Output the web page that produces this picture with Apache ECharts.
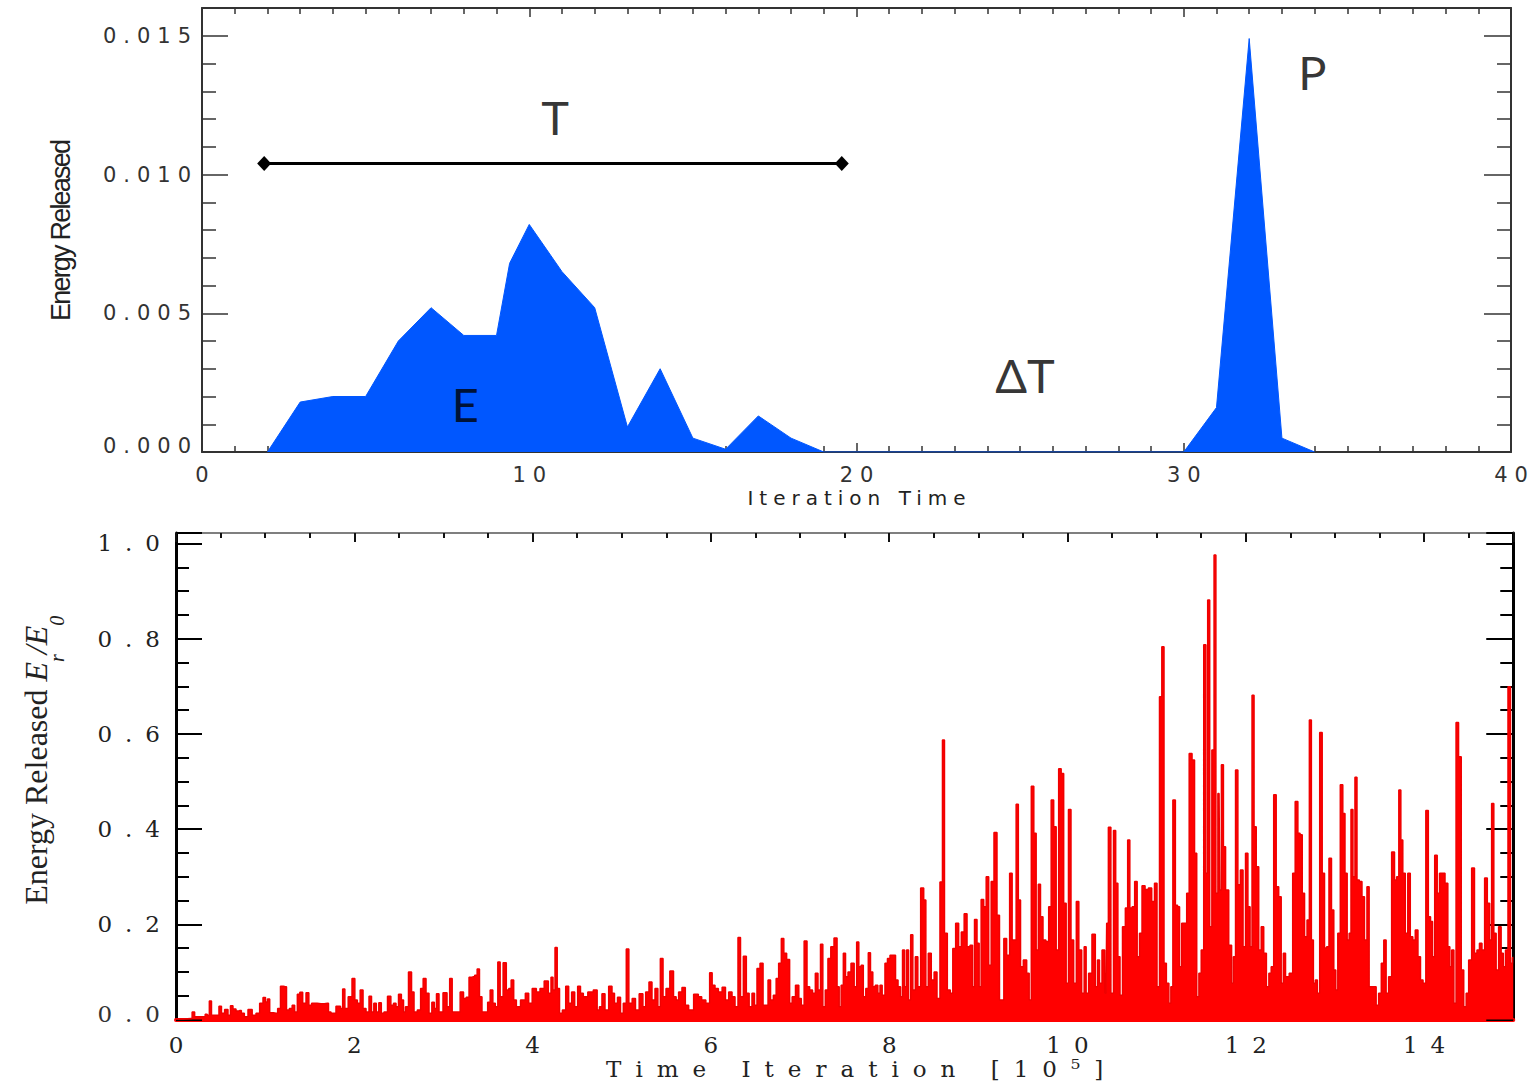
<!DOCTYPE html>
<html>
<head>
<meta charset="utf-8">
<title>Energy release per iteration</title>
<script src="https://cdn.jsdelivr.net/npm/echarts@6/dist/echarts.min.js"></script>
<style>
  html, body { margin: 0; padding: 0; background: #ffffff; }
  #chart { width: 1539px; height: 1085px; }
</style>
</head>
<body>
<div id="chart"></div>
<script>
// ---------- Upper panel: one avalanche (E) of duration T, a quiet gap ΔT, then the next peak (P)
const iterTime       = [2, 3, 4, 5, 6, 7, 8, 9, 9.4, 10, 11, 12, 13, 14, 15, 16, 17, 18, 19, 30, 31, 32, 33, 34];
const energyReleased = [0, 0.0018, 0.0020, 0.0020, 0.0040, 0.0052, 0.0042, 0.0042, 0.0068, 0.0082, 0.0065, 0.0052,
                        0.0009, 0.0030, 0.0005, 0.0001, 0.0013, 0.0005, 0, 0, 0.0016, 0.0149, 0.0005, 0];

// duration bar T (start, end, level)
const periodStart = 1.9;
const periodEnd   = 19.55;
const periodLevel = 0.0104;

// letters written on the upper panel, in data units
const panelNotes = [
  { text: 'T',  x: 10.79, y: 0.01207 },
  { text: 'P',  x: 33.93, y: 0.0137 },
  { text: 'E',  x: 8.05,  y: 0.00173 },
  { text: 'ΔT', x: 25.15, y: 0.00277 }
];

// upper panel tick values
const upperXTicks = { min: 0, max: 40, step: 10 };
const upperYTicks = { min: 0, max: 0.016, step: 0.005 };

// ---------- Lower panel: released energy E_r/E_0 against time iteration [10^5], pairs [t, E_r/E_0]
const releases0to3 = [
  [0,0.001],[0.168,0.002],[0.194,0.016],[0.224,0.006],[0.318,0.006],[0.337,0.011],[0.363,0.009],[0.385,0.039],
  [0.411,0.009],[0.467,0.009],[0.497,0.028],[0.523,0.013],[0.568,0.021],[0.598,0.009],[0.624,0.029],[0.654,0.022],
  [0.692,0.018],[0.718,0.019],[0.748,0.013],[0.785,0.006],[0.830,0.021],[0.879,0.009],[0.916,0.013],[0.961,0.034],
  [0.991,0.046],[1.017,0.037],[1.036,0.043],[1.066,0.014],[1.122,0.013],[1.159,0.023],[1.185,0.070],[1.226,0.069],
  [1.253,0.020],[1.290,0.023],[1.316,0.030],[1.346,0.016],[1.376,0.053],[1.402,0.057],[1.440,0.034],[1.477,0.056],
  [1.503,0.030],[1.540,0.034],[1.626,0.033],[1.701,0.034],[1.720,0.016],[1.757,0.013],[1.832,0.028],[1.858,0.023],
  [1.881,0.064],[1.907,0.023],[1.956,0.048],[1.993,0.086],[2.019,0.041],[2.049,0.034],[2.083,0.062],[2.113,0.023],
  [2.150,0.016],[2.180,0.049],[2.206,0.016],[2.232,0.034],[2.262,0.016],[2.288,0.035],[2.318,0.013],[2.348,0.016],
  [2.397,0.049],[2.423,0.030],[2.457,0.034],[2.479,0.027],[2.513,0.053],[2.543,0.041],[2.561,0.016],[2.587,0.027],
  [2.629,0.100],[2.655,0.058],[2.685,0.016],[2.729,0.020],[2.759,0.065],[2.786,0.086],[2.823,0.055],[2.853,0.013],
  [2.887,0.036],[2.909,0.023],[2.935,0.054],[2.965,0.016]
];
const releases3to6 = [
  [3.025,0.056],[3.055,0.027],[3.085,0.086],[3.111,0.016],[3.167,0.016],[3.208,0.058],[3.242,0.044],[3.268,0.047],
  [3.306,0.089],[3.336,0.090],[3.365,0.093],[3.391,0.106],[3.417,0.048],[3.447,0.016],[3.485,0.016],[3.507,0.036],
  [3.541,0.062],[3.567,0.034],[3.597,0.027],[3.623,0.121],[3.649,0.048],[3.690,0.119],[3.720,0.062],[3.746,0.065],
  [3.773,0.083],[3.803,0.041],[3.833,0.027],[3.896,0.041],[3.941,0.055],[3.971,0.034],[4.020,0.065],[4.064,0.058],
  [4.102,0.065],[4.158,0.081],[4.195,0.055],[4.218,0.089],[4.240,0.062],[4.263,0.151],[4.289,0.065],[4.315,0.013],
  [4.353,0.020],[4.390,0.070],[4.419,0.034],[4.457,0.058],[4.487,0.027],[4.524,0.070],[4.550,0.055],[4.588,0.048],
  [4.651,0.058],[4.711,0.062],[4.737,0.020],[4.763,0.027],[4.793,0.054],[4.831,0.020],[4.876,0.070],[4.905,0.055],
  [4.932,0.034],[4.973,0.047],[4.999,0.013],[5.036,0.034],[5.066,0.148],[5.093,0.034],[5.141,0.044],[5.167,0.020],
  [5.224,0.054],[5.250,0.027],[5.287,0.058],[5.324,0.079],[5.354,0.041],[5.392,0.065],[5.418,0.027],[5.448,0.128],
  [5.478,0.048],[5.515,0.065],[5.564,0.102],[5.597,0.048],[5.623,0.041],[5.653,0.058],[5.698,0.067],[5.728,0.030],
  [5.773,0.020],[5.840,0.053],[5.878,0.048],[5.915,0.041]
];
const releases6to9 = [
  [5.971,0.034],[6.001,0.098],[6.027,0.072],[6.065,0.065],[6.102,0.058],[6.150,0.068],[6.177,0.041],[6.222,0.058],
  [6.252,0.048],[6.289,0.027],[6.319,0.172],[6.345,0.048],[6.383,0.133],[6.412,0.055],[6.446,0.027],[6.476,0.055],
  [6.502,0.030],[6.532,0.107],[6.570,0.118],[6.600,0.030],[6.626,0.030],[6.656,0.083],[6.682,0.041],[6.719,0.051],
  [6.745,0.086],[6.775,0.118],[6.805,0.170],[6.831,0.139],[6.868,0.126],[6.898,0.034],[6.925,0.048],[6.973,0.072],
  [6.999,0.044],[7.029,0.030],[7.063,0.165],[7.093,0.069],[7.123,0.062],[7.157,0.055],[7.186,0.097],[7.216,0.062],
  [7.243,0.158],[7.268,0.027],[7.298,0.062],[7.328,0.128],[7.362,0.153],[7.400,0.171],[7.430,0.069],[7.448,0.027],
  [7.474,0.072],[7.497,0.139],[7.523,0.090],[7.553,0.100],[7.590,0.118],[7.624,0.069],[7.646,0.163],[7.672,0.111],
  [7.698,0.114],[7.721,0.048],[7.754,0.065],[7.777,0.140],[7.803,0.100],[7.829,0.069],[7.859,0.072],[7.886,0.055],
  [7.908,0.072],[7.934,0.051],[7.971,0.118],[7.990,0.128],[8.028,0.135],[8.058,0.135],[8.084,0.083],[8.114,0.069],
  [8.140,0.048],[8.159,0.146],[8.185,0.069],[8.204,0.146],[8.230,0.041],[8.252,0.178],[8.278,0.062],[8.308,0.132],
  [8.334,0.069],[8.372,0.276],[8.402,0.251],[8.420,0.069],[8.457,0.139],[8.487,0.083],[8.521,0.100],[8.551,0.044],
  [8.588,0.289],[8.607,0.587],[8.633,0.181],[8.671,0.062],[8.700,0.055],[8.727,0.149],[8.764,0.202],[8.794,0.153],
  [8.824,0.184],[8.858,0.222],[8.888,0.153],[8.925,0.156],[8.944,0.069],[8.970,0.210]
];
const releases9to12 = [
  [9.000,0.160],[9.018,0.069],[9.045,0.252],[9.075,0.237],[9.101,0.300],[9.131,0.114],[9.157,0.290],[9.194,0.393],
  [9.224,0.219],[9.250,0.041],[9.273,0.041],[9.299,0.170],[9.336,0.135],[9.366,0.307],[9.392,0.167],[9.411,0.167],
  [9.437,0.452],[9.460,0.251],[9.486,0.111],[9.523,0.125],[9.561,0.097],[9.579,0.041],[9.609,0.490],[9.635,0.391],
  [9.662,0.146],[9.684,0.284],[9.710,0.216],[9.740,0.167],[9.774,0.164],[9.804,0.237],[9.830,0.461],[9.860,0.405],
  [9.886,0.146],[9.916,0.527],[9.942,0.517],[9.972,0.244],[9.998,0.076],[10.024,0.441],[10.054,0.167],[10.084,0.076],
  [10.114,0.248],[10.140,0.146],[10.178,0.055],[10.196,0.153],[10.222,0.055],[10.252,0.097],[10.297,0.179],[10.327,0.069],
  [10.346,0.125],[10.372,0.076],[10.402,0.146],[10.432,0.055],[10.447,0.202],[10.470,0.404],[10.503,0.055],[10.529,0.397],
  [10.552,0.286],[10.578,0.132],[10.600,0.051],[10.634,0.195],[10.664,0.234],[10.686,0.377],[10.712,0.234],[10.739,0.237],
  [10.768,0.290],[10.795,0.132],[10.821,0.181],[10.851,0.281],[10.889,0.273],[10.926,0.276],[10.963,0.248],[10.989,0.286],
  [11.019,0.069],[11.045,0.678],[11.071,0.783],[11.094,0.118],[11.124,0.076],[11.150,0.034],[11.169,0.069],[11.195,0.461],
  [11.225,0.240],[11.244,0.237],[11.270,0.111],[11.292,0.202],[11.326,0.202],[11.348,0.265],[11.382,0.559],[11.412,0.545],
  [11.438,0.349],[11.461,0.048],[11.487,0.097],[11.513,0.146],[11.543,0.787],[11.561,0.307],[11.584,0.881],[11.606,0.195],
  [11.633,0.566],[11.655,0.976],[11.674,0.265],[11.700,0.475],[11.715,0.272],[11.738,0.535],[11.760,0.363],[11.786,0.272],
  [11.831,0.156],[11.850,0.076],[11.872,0.132],[11.898,0.524],[11.924,0.283],[11.954,0.314],[11.984,0.153]
];
const releases12to15 = [
  [12.010,0.349],[12.037,0.237],[12.059,0.153],[12.081,0.681],[12.104,0.405],[12.130,0.321],[12.160,0.146],[12.186,0.195],
  [12.216,0.139],[12.246,0.069],[12.272,0.097],[12.298,0.111],[12.328,0.472],[12.354,0.279],[12.384,0.258],[12.410,0.076],
  [12.432,0.139],[12.459,0.090],[12.515,0.097],[12.537,0.307],[12.571,0.458],[12.597,0.391],[12.620,0.388],[12.646,0.265],
  [12.672,0.174],[12.702,0.209],[12.724,0.629],[12.747,0.167],[12.769,0.076],[12.792,0.083],[12.814,0.055],[12.844,0.603],
  [12.870,0.307],[12.896,0.150],[12.918,0.153],[12.948,0.339],[12.974,0.230],[13.000,0.104],[13.019,0.062],[13.045,0.181],
  [13.075,0.493],[13.101,0.433],[13.124,0.307],[13.150,0.167],[13.169,0.181],[13.191,0.441],[13.213,0.300],[13.236,0.509],
  [13.258,0.293],[13.288,0.290],[13.318,0.258],[13.344,0.167],[13.374,0.279],[13.393,0.069],[13.449,0.069],[13.475,0.030],
  [13.505,0.055],[13.535,0.118],[13.561,0.167],[13.587,0.055],[13.617,0.090],[13.655,0.352],[13.681,0.293],[13.703,0.300],
  [13.730,0.482],[13.748,0.377],[13.774,0.307],[13.804,0.181],[13.830,0.307],[13.860,0.174],[13.886,0.167],[13.916,0.188],
  [13.946,0.132],[13.973,0.083],[14.003,0.076],[14.036,0.439],[14.059,0.216],[14.085,0.206],[14.104,0.132],[14.134,0.345],
  [14.160,0.265],[14.186,0.307],[14.216,0.307],[14.253,0.286],[14.279,0.153],[14.298,0.111],[14.321,0.146],[14.347,0.034],
  [14.370,0.624],[14.403,0.552],[14.430,0.104],[14.459,0.027],[14.485,0.055],[14.515,0.125],[14.552,0.318],[14.578,0.139],
  [14.608,0.146],[14.634,0.160],[14.664,0.146],[14.694,0.297],[14.724,0.244],[14.746,0.167],[14.769,0.454],[14.795,0.181],
  [14.821,0.104],[14.851,0.195],[14.877,0.139],[14.900,0.111],[14.926,0.146],[14.956,0.699],[14.982,0.118],[15.0,0.130]
];

// lower panel tick values
const lowerXTicks = { min: 0, max: 15, step: 2 };
const lowerYTicks = { min: 0, max: 1.022, step: 0.2 };

// ---------- styling
const BLUE = '#0057ff';
const RED = '#ff0000';
const FRAME_GREY = '#333333';
const SANS_WIDE = '"DejaVu Sans", "Liberation Sans", sans-serif';
const SANS_LABEL = '"Liberation Sans", Arial, sans-serif';
const SERIF_WIDE = '"DejaVu Serif", "Liberation Serif", serif';
const SERIF_TEXT = '"Liberation Serif", "Times New Roman", serif';
const NOTE_FONT = 'Lato, "Open Sans", "Noto Sans", sans-serif';

const upperCurve = iterTime.map((t, i) => [t, energyReleased[i]]);
const lowerCurve = [].concat(releases0to3, releases3to6, releases6to9, releases9to12, releases12to15);

// the zero label on each y axis sits a little above its tick, clear of the x axis
function raisedZeroLabel(digits, font, size) {
  return {
    formatter: v => (v === 0 ? '{lo|' + v.toFixed(digits) + '}' : v.toFixed(digits)),
    rich: { lo: { align: 'right', padding: [0, 0, 12, 0], fontFamily: font, fontSize: size, color: '#333' } }
  };
}

function frameAxis(opts) {
  const line = { color: opts.color, width: opts.width };
  return {
    type: 'value',
    gridIndex: opts.grid,
    position: opts.position,
    min: opts.ticks.min,
    max: opts.ticks.max,
    interval: opts.ticks.step,
    axisLine: { show: true, onZero: false, lineStyle: line },
    axisTick: { show: opts.tickShow !== false, inside: true, length: opts.tickLen, lineStyle: { color: opts.tickColor || opts.color, width: opts.tickWidth || 1.5 } },
    minorTick: { show: opts.tickShow !== false, splitNumber: opts.minorSplit, length: opts.minorLen, lineStyle: { color: opts.tickColor || opts.color, width: opts.tickWidth || 1.5 } },
    splitLine: { show: false },
    minorSplitLine: { show: false },
    axisLabel: opts.label ? Object.assign({ show: true, showMaxLabel: opts.ticks.max % opts.ticks.step === 0 }, opts.label) : { show: false },
    name: opts.name || '',
    nameLocation: 'middle',
    nameGap: opts.nameGap || 0,
    nameTextStyle: opts.nameStyle || {},
    silent: true,
    z: 1
  };
}

const option = {
  backgroundColor: '#ffffff',
  animation: false,
  grid: [
    { left: 202, top: 8, width: 1309, height: 444, outerBoundsMode: 'none', containLabel: false },
    { left: 176, top: 533, width: 1337.25, height: 486.5, outerBoundsMode: 'none', containLabel: false }
  ],
  xAxis: [
    frameAxis({
      grid: 0, position: 'bottom', ticks: upperXTicks, color: FRAME_GREY, width: 2,
      tickLen: 9, minorSplit: 10, minorLen: 6,
      label: { margin: 12, fontFamily: SANS_WIDE, fontSize: 21, color: '#333' },
      name: 'Iteration Time', nameGap: 36,
      nameStyle: { fontFamily: SANS_WIDE, fontSize: 20, color: '#222' }
    }),
    frameAxis({
      grid: 0, position: 'top', ticks: upperXTicks, color: FRAME_GREY, width: 2,
      tickLen: 9, minorSplit: 10, minorLen: 6
    }),
    frameAxis({
      grid: 1, position: 'bottom', ticks: lowerXTicks, color: RED, width: 4, tickShow: false,
      tickLen: 0, minorSplit: 4, minorLen: 0,
      label: { margin: 14, fontFamily: SERIF_WIDE, fontSize: 23, color: '#222' },
      name: 'Time Iteration [10⁵]', nameGap: 37,
      nameStyle: { fontFamily: SERIF_WIDE, fontSize: 23, color: '#222', padding: [0, 0, 0, 20] }
    }),
    frameAxis({
      grid: 1, position: 'top', ticks: lowerXTicks, color: '#555', width: 1.5, tickColor: '#111', tickWidth: 2,
      tickLen: 9, minorSplit: 4, minorLen: 5
    })
  ],
  yAxis: [
    frameAxis({
      grid: 0, position: 'left', ticks: upperYTicks, color: FRAME_GREY, width: 2,
      tickLen: 26, minorSplit: 5, minorLen: 14,
      label: Object.assign({ margin: 11, fontFamily: SANS_WIDE, fontSize: 21, color: '#333' },
                           raisedZeroLabel(3, SANS_WIDE, 21)),
      name: 'Energy Released', nameGap: 128,
      nameStyle: { fontFamily: SANS_LABEL, fontSize: 27, color: '#222' }
    }),
    frameAxis({
      grid: 0, position: 'right', ticks: upperYTicks, color: FRAME_GREY, width: 2,
      tickLen: 27, minorSplit: 5, minorLen: 14
    }),
    frameAxis({
      grid: 1, position: 'left', ticks: lowerYTicks, color: '#000', width: 3, tickWidth: 2,
      tickLen: 26, minorSplit: 4, minorLen: 13,
      label: Object.assign({ margin: 16, fontFamily: SERIF_WIDE, fontSize: 23, color: '#222' },
                           raisedZeroLabel(1, SERIF_WIDE, 23)),
      name: '{n|Energy Released }{e|E}{s|r}{e|/E}{s|0}', nameGap: 109,
      nameStyle: {
        padding: [0, 0, 0, 32],
        rich: {
          n: { fontFamily: SERIF_TEXT, fontSize: 32, lineHeight: 62, color: '#222' },
          e: { fontFamily: SERIF_TEXT, fontStyle: 'italic', fontSize: 32, lineHeight: 62, color: '#222' },
          s: { fontFamily: SERIF_TEXT, fontStyle: 'italic', fontSize: 20, lineHeight: 20, verticalAlign: 'bottom', color: '#222' }
        }
      }
    }),
    frameAxis({
      grid: 1, position: 'right', ticks: lowerYTicks, color: '#000', width: 3, tickWidth: 2,
      tickLen: 27, minorSplit: 4, minorLen: 13
    })
  ],
  series: [
    {
      name: 'energy released',
      type: 'line',
      xAxisIndex: 0, yAxisIndex: 0,
      data: upperCurve,
      symbol: 'none',
      lineStyle: { color: BLUE, width: 1 },
      areaStyle: { color: BLUE, opacity: 1 },
      silent: true,
      z: 2
    },
    {
      name: 'duration T',
      type: 'line',
      xAxisIndex: 0, yAxisIndex: 0,
      data: [[periodStart, periodLevel], [periodEnd, periodLevel]],
      symbol: 'diamond',
      symbolSize: [14, 15],
      itemStyle: { color: '#000' },
      lineStyle: { color: '#000', width: 3 },
      silent: true,
      z: 4
    },
    {
      name: 'notes',
      type: 'scatter',
      xAxisIndex: 0, yAxisIndex: 0,
      data: panelNotes.map(n => ({ value: [n.x, n.y], label: { formatter: n.text } })),
      symbolSize: 1,
      itemStyle: { color: 'rgba(0,0,0,0)' },
      label: { show: true, position: 'inside', fontFamily: NOTE_FONT, fontSize: 47, color: '#000' },
      silent: true,
      z: 5
    },
    {
      name: 'released E_r/E_0',
      type: 'line',
      xAxisIndex: 2, yAxisIndex: 2,
      data: lowerCurve,
      step: 'middle',
      symbol: 'none',
      lineStyle: { color: '#f00000', width: 1.5 },
      areaStyle: { color: RED, opacity: 1 },
      silent: true,
      z: 2
    }
  ]
};

const dom = document.getElementById('chart');
const chart = echarts.init(dom, null, { renderer: 'svg', width: 1539, height: 1085 });

// Wide tracking for the plot lettering (tick numbers and axis titles).
const trackingRules = [
  { match: (txt, st) => /^[0-9.]+$/.test(txt) && st.indexOf('DejaVu Sans') >= 0, px: 7 },
  { match: (txt) => txt === 'Iteration Time', px: 6 },
  { match: (txt) => txt === 'Energy Released', px: -1.8 },
  { match: (txt, st) => /^[0-9.]+$/.test(txt) && st.indexOf('DejaVu Serif') >= 0, px: 13 },
  { match: (txt) => txt.indexOf('Time Iteration') === 0, px: 14 }
];
function applyTracking() {
  dom.querySelectorAll('svg text').forEach(t => {
    if (t.getAttribute('data-tracked')) return;
    const txt = t.textContent;
    const st = (t.getAttribute('style') || '') + ' ' + (t.getAttribute('font-family') || '');
    for (const r of trackingRules) {
      if (r.match(txt, st)) {
        t.style.letterSpacing = r.px + 'px';
        const anchor = t.getAttribute('text-anchor');
        if (anchor === 'middle') t.setAttribute('dx', r.px / 2);
        else if (anchor === 'end') t.setAttribute('dx', r.px);
        t.setAttribute('data-tracked', '1');
        break;
      }
    }
  });
}
chart.on('finished', applyTracking);
chart.setOption(option);
applyTracking();
setTimeout(applyTracking, 0);
requestAnimationFrame(applyTracking);
</script>
</body>
</html>
